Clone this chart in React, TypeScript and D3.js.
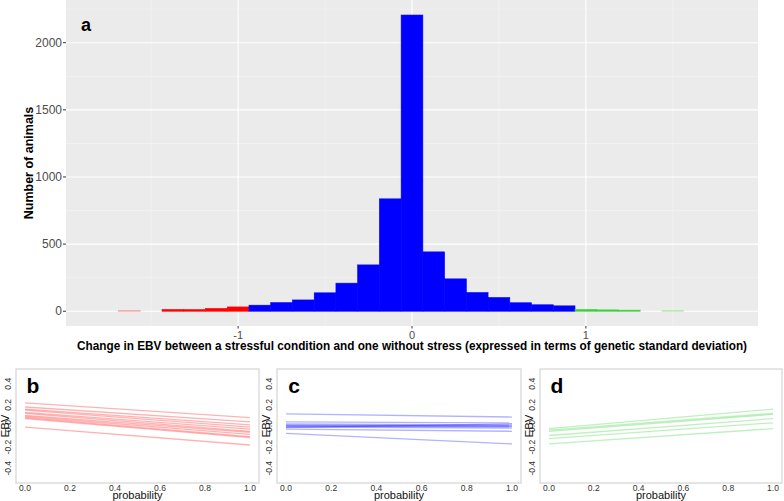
import React from 'react';
import * as d3 from 'd3';

// histogram bins (centre of bin, width 0.125) and counts
const binCenters = [-1.625, -1.375, -1.25, -1.125, -1.0, -0.875, -0.75, -0.625, -0.5, -0.375, -0.25, -0.125, 0, 0.125, 0.25, 0.375, 0.5, 0.625, 0.75, 0.875, 1.0, 1.125, 1.25, 1.5];
const binCounts = [6, 13, 12, 21, 32, 45, 64, 84, 137, 209, 345, 837, 2206, 442, 241, 139, 102, 63, 48, 40, 13, 10, 8, 5];
const binGroups = ['negFaint', 'neg', 'neg', 'neg', 'neg', 'mid', 'mid', 'mid', 'mid', 'mid', 'mid', 'mid', 'mid', 'mid', 'mid', 'mid', 'mid', 'mid', 'mid', 'mid', 'pos', 'pos', 'pos', 'posFaint'];
const yTicks = [0, 500, 1000, 1500, 2000];
const xTicks = [-1, 0, 1];

// reaction norms: EBV at probability 0 and at probability 1
const bStart = [0.22, 0.18, 0.16, 0.15, 0.13, 0.12, 0.1, 0.09, 0.08, 0.07, -0.01];
const bEnd = [0.08, 0.04, 0.01, -0.01, -0.03, -0.05, -0.06, -0.08, -0.1, -0.11, -0.18];
const cStart = [0.115, 0.04, 0.02, 0.01, 0.0, 0.0, -0.01, -0.015, -0.03, -0.07];
const cEnd = [0.085, 0.03, 0.01, 0.0, 0.0, -0.01, -0.02, 0.02, -0.05, -0.17];
const dStart = [-0.025, -0.04, -0.05, -0.09, -0.12, -0.17];
const dEnd = [0.16, 0.12, 0.11, 0.07, 0.03, -0.025];
const smallXTicks = [0, 0.2, 0.4, 0.6, 0.8, 1.0];
const smallYTicks = [-0.4, -0.2, 0, 0.2, 0.4];

const colors: Record<string, string> = {
  negFaint: '#f4a3a3',
  neg: '#ff0000',
  mid: '#0000ff',
  pos: '#3ccf3c',
  posFaint: '#aee6ae'
};

const font = '"Liberation Sans", Arial, sans-serif';

function SmallPanel({ box, starts, ends, color, label }: any) {
  const x = d3.scaleLinear().domain([-0.04, 1.04]).range([box.x0, box.x1]);
  const y = d3.scaleLinear().domain([-0.54, 0.54]).range([box.y1, box.y0]);
  const line = d3.line<[number, number]>().x(d => x(d[0])).y(d => y(d[1]));
  return (
    <g>
      <rect x={box.x0} y={box.y0} width={box.x1 - box.x0} height={box.y1 - box.y0} fill="#fff" stroke="#d4d4d4" strokeWidth={1.2} />
      {starts.map((s: number, i: number) => (
        <path key={i} d={line([[0, s], [1, ends[i]]]) || ''} stroke={color} strokeOpacity={0.3} strokeWidth={1.3} fill="none" />
      ))}
      {smallYTicks.map(t => (
        <text key={t} transform={`translate(${box.x0 - 5},${y(t)}) rotate(-90)`} textAnchor="middle" fontSize={8.5} fill="#333" fontFamily={font}>
          {t.toFixed(1)}
        </text>
      ))}
      {smallXTicks.map(t => (
        <text key={t} x={x(t)} y={491} textAnchor="middle" fontSize={8.5} fill="#333" fontFamily={font}>
          {t.toFixed(1)}
        </text>
      ))}
      <text transform={`translate(${box.x0 - 7},${y(0)}) rotate(-90)`} textAnchor="middle" fontSize={11.5} fill="#111" fontFamily={font}>EBV</text>
      <text x={(x(0) + x(1)) / 2} y={499} textAnchor="middle" fontSize={11} fill="#111" fontFamily={font}>probability</text>
      <text x={box.x0 + 17} y={box.y0 + 24} textAnchor="middle" fontSize={21} fontWeight="bold" fill="#000" fontFamily={font}>{label}</text>
    </g>
  );
}

export default function App() {
  const panel = { left: 66, right: 758, top: 0, bottom: 326 };
  const x = d3.scaleLinear().domain([-1.99, 1.99]).range([panel.left, panel.right]);
  const y = d3.scaleLinear().domain([-110, 2318]).range([panel.bottom, panel.top]);
  const halfBin = 0.0625;
  const minorY = [250, 750, 1250, 1750, 2250];
  const minorX = [-1.5, -0.5, 0.5, 1.5];

  return (
    <svg width={784} height={501} style={{ position: 'absolute', left: 0, top: 0, background: '#fff' }}>
      <rect x={panel.left} y={panel.top} width={panel.right - panel.left} height={panel.bottom - panel.top} fill="#ebebeb" />
      {minorY.map(v => (
        <line key={'my' + v} x1={panel.left} x2={panel.right} y1={y(v)} y2={y(v)} stroke="#f5f5f5" strokeWidth={0.6} />
      ))}
      {minorX.map(v => (
        <line key={'mx' + v} x1={x(v)} x2={x(v)} y1={panel.top} y2={panel.bottom} stroke="#f5f5f5" strokeWidth={0.6} />
      ))}
      {yTicks.map(v => (
        <line key={'gy' + v} x1={panel.left} x2={panel.right} y1={y(v)} y2={y(v)} stroke="#fff" strokeWidth={1.1} />
      ))}
      {xTicks.map(v => (
        <line key={'gx' + v} x1={x(v)} x2={x(v)} y1={panel.top} y2={panel.bottom} stroke="#fff" strokeWidth={1.1} />
      ))}
      {binCenters.map((c, i) => (
        <rect key={'b' + i} x={x(c - halfBin)} y={y(binCounts[i])} width={x(c + halfBin) - x(c - halfBin)} height={y(0) - y(binCounts[i])}
          fill={colors[binGroups[i]]} stroke={colors[binGroups[i]]} strokeWidth={0.6} />
      ))}
      {yTicks.map(v => (
        <g key={'ty' + v}>
          <line x1={panel.left - 3} x2={panel.left} y1={y(v)} y2={y(v)} stroke="#333" strokeWidth={1} />
          <text x={panel.left - 4} y={y(v)} dy="0.35em" textAnchor="end" fontSize={12} fill="#4d4d4d" fontFamily={font}>{v}</text>
        </g>
      ))}
      {xTicks.map(v => (
        <g key={'tx' + v}>
          <line x1={x(v)} x2={x(v)} y1={panel.bottom} y2={panel.bottom + 2.5} stroke="#333" strokeWidth={1} />
          <text x={x(v)} y={339} textAnchor="middle" fontSize={11} fill="#4d4d4d" fontFamily={font}>{v}</text>
        </g>
      ))}
      <text x={86} y={31} textAnchor="middle" fontSize={18} fontWeight="bold" fill="#000" fontFamily={font}>a</text>
      <text transform="translate(33,163) rotate(-90)" textAnchor="middle" fontSize={12.5} fontWeight="bold" fill="#000" fontFamily={font}>Number of animals</text>
      <text x={412} y={349.5} textAnchor="middle" fontSize={12.5} fontWeight="bold" fill="#000" fontFamily={font} textLength={670} lengthAdjust="spacingAndGlyphs">
        Change in EBV between a stressful condition and one without stress (expressed in terms of genetic standard deviation)
      </text>

      <SmallPanel box={{ x0: 16, x1: 259, y0: 369, y1: 483 }} starts={bStart} ends={bEnd} color="#ff0000" label="b" />
      <SmallPanel box={{ x0: 277, x1: 521, y0: 369, y1: 483 }} starts={cStart} ends={cEnd} color="#0000ff" label="c" />
      <SmallPanel box={{ x0: 540, x1: 782, y0: 369, y1: 483 }} starts={dStart} ends={dEnd} color="#2ecc2e" label="d" />
    </svg>
  );
}
